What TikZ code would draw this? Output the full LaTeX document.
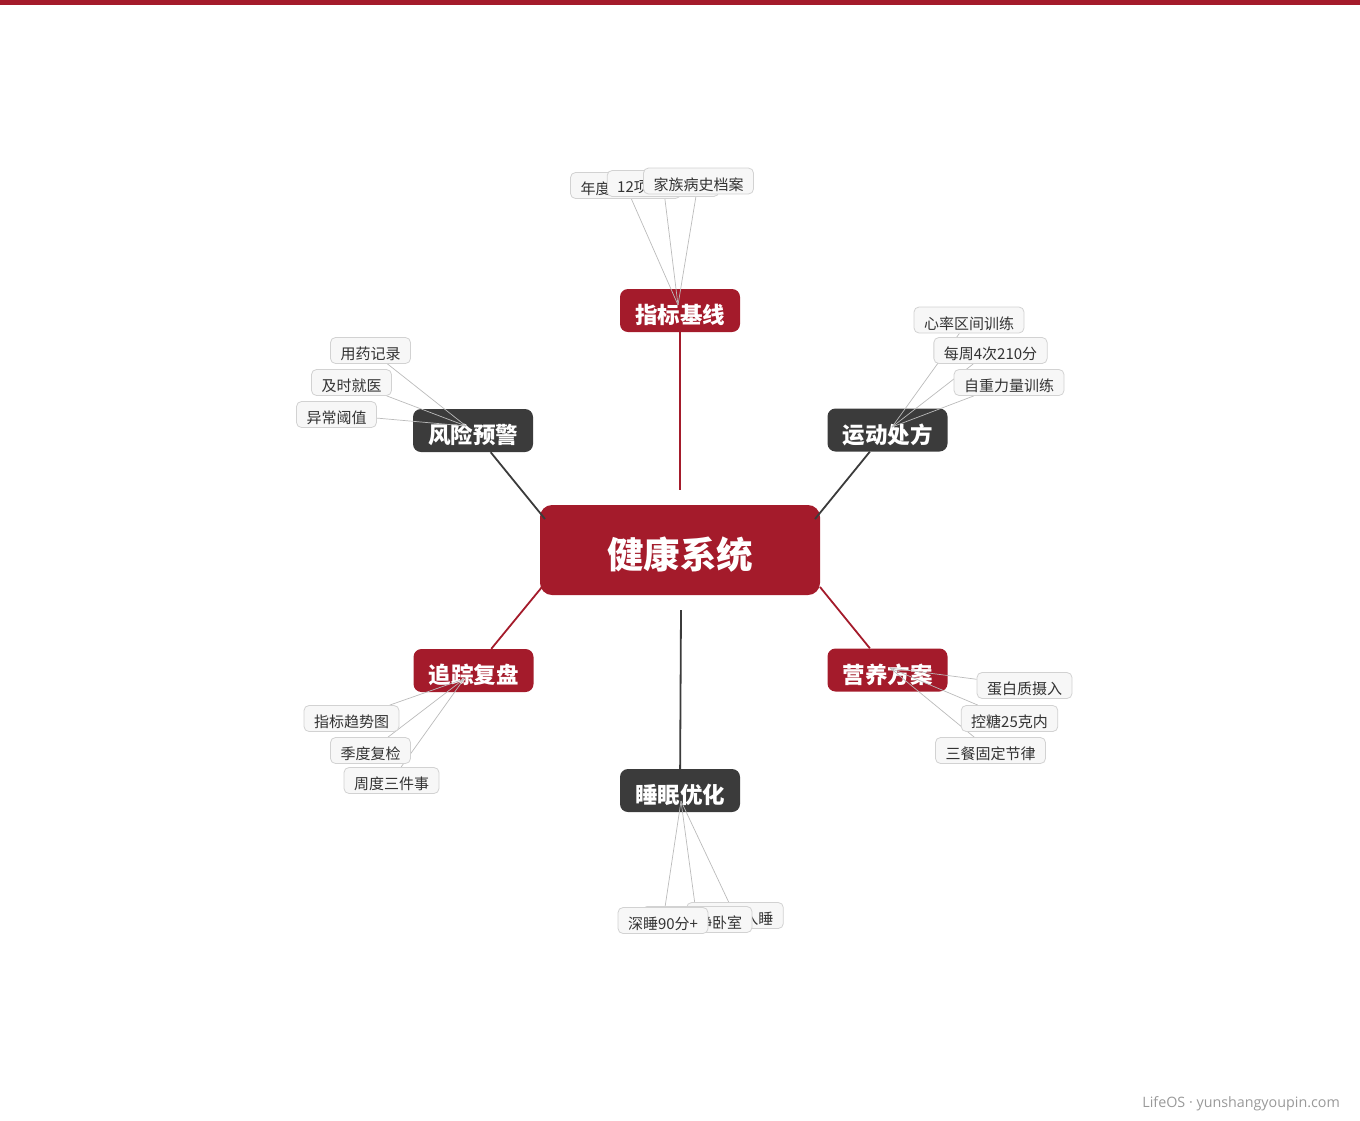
\documentclass[tikz,border=0pt]{standalone}
\usepackage{fontspec}
\setmainfont{Noto Sans CJK SC}
\newfontfamily\footfont{Open Sans}
\definecolor{brandred}{HTML}{A41B2B}
\definecolor{darkbox}{HTML}{3B3B3B}
\definecolor{leafborder}{HTML}{D2D2D2}
\definecolor{leaffill}{HTML}{F7F7F7}
\definecolor{leaftext}{HTML}{333333}
\definecolor{leafline}{HTML}{BBBBBB}
\definecolor{foottext}{HTML}{999999}
\pgfdeclarelayer{bottom}
\pgfdeclarelayer{mid}
\pgfsetlayers{bottom,mid,main}
\begin{document}
\begin{tikzpicture}[x=1pt,y=-1pt,
  centerbox/.style={fill=brandred, rounded corners=12pt, minimum width=280pt, minimum height=90pt,
    text=white, inner sep=0pt, font=\fontsize{36.5}{36.5}\selectfont\bfseries, text height=40pt, text depth=3pt},
  branchbox/.style={rounded corners=8pt, minimum width=120pt, minimum height=43pt, inner sep=0pt,
    text=white, font=\fontsize{22.5}{22.5}\selectfont\bfseries, text height=28.5pt, text depth=1.8pt},
  redbranch/.style={branchbox, fill=brandred},
  darkbranch/.style={branchbox, fill=darkbox},
  leafbox/.style={draw=leafborder, fill=leaffill, line width=0.8pt, rounded corners=5pt,
    minimum height=26pt, inner xsep=10pt, inner ysep=0pt, text=leaftext,
    font=\fontsize{15}{15}\selectfont, text height=19.5pt, text depth=1.4pt},
  redline/.style={draw=brandred, line width=1.8pt},
  darkline/.style={draw=darkbox, line width=1.8pt},
  leafconn/.style={draw=leafline, line width=0.7pt}
]
\useasboundingbox (0,0) rectangle (1360,1120);
\fill[brandred] (0,0) rectangle (1360,4.5);

\begin{pgfonlayer}{bottom}
\node[centerbox] (c) at (680,550) {健康系统};
\node[redbranch]  (b1) at (680,310.5) {指标基线};
\node[darkbranch] (b2) at (473,430.5) {风险预警};
\node[darkbranch] (b3) at (887.5,430) {运动处方};
\node[redbranch]  (b4) at (473.5,670.5) {追踪复盘};
\node[redbranch]  (b5) at (887.5,670) {营养方案};
\node[darkbranch] (b6) at (680,790.5) {睡眠优化};
\coordinate (eT) at (680,490);
\coordinate (eB) at (681,610);
\coordinate (eNW) at (545,519);
\coordinate (eNE) at (815,519);
\coordinate (eSW) at (542,587);
\coordinate (eSE) at (820,587);
\draw[redline] (b1) -- (eT);
\draw[darkline] (b2) -- (eNW);
\draw[darkline] (b3) -- (eNE);
\draw[redline] (b4) -- (eSW);
\draw[redline] (b5) -- (eSE);
\draw[darkline] (b6) -- (eB);
\end{pgfonlayer}

\coordinate (h1) at (678,305);
\coordinate (h2) at (466,426);
\coordinate (h3) at (892,427);
\coordinate (h4) at (464,679);
\coordinate (h5) at (890,668);
\coordinate (h6) at (681,801);

% leaves: top
\node[leafbox] (l11) at (625.5,185.5) {年度全面体检};
\node[leafbox] (l12) at (663,183.5) {12项核心指标};
\node[leafbox] (l13) at (698.5,181) {家族病史档案};
% risk
\node[leafbox] (l21) at (370.5,350.5) {用药记录};
\node[leafbox] (l22) at (351.5,382.5) {及时就医};
\node[leafbox] (l23) at (336.5,414.5) {异常阈值};
% exercise
\node[leafbox] (l31) at (969,320) {心率区间训练};
\node[leafbox] (l32) at (990.5,350.5) {每周4次210分};
\node[leafbox] (l33) at (1009,382.5) {自重力量训练};
% tracking
\node[leafbox] (l41) at (351.5,718.5) {指标趋势图};
\node[leafbox] (l42) at (370.5,750.5) {季度复检};
\node[leafbox] (l43) at (391.5,780.5) {周度三件事};
% nutrition
\node[leafbox] (l51) at (1024.5,685.5) {蛋白质摄入};
\node[leafbox] (l52) at (1009.5,718.5) {控糖25克内};
\node[leafbox] (l53) at (990.5,750.5) {三餐固定节律};
% sleep
\node[leafbox] (l63) at (735,915.5) {23点前入睡};
\node[leafbox] (l62) at (697,919.5) {黑暗安静卧室};
\node[leafbox] (l61) at (663,920.5) {深睡90分+};

\begin{pgfonlayer}{mid}
\foreach \l in {l11,l12,l13} \draw[leafconn] (\l) -- (h1);
\foreach \l in {l21,l22,l23} \draw[leafconn] (\l) -- (h2);
\foreach \l in {l31,l32,l33} \draw[leafconn] (\l) -- (h3);
\foreach \l in {l41,l42,l43} \draw[leafconn] (\l) -- (h4);
\foreach \l in {l51,l52,l53} \draw[leafconn] (\l) -- (h5);
\foreach \l in {l61,l62,l63} \draw[leafconn] (\l) -- (h6);
\end{pgfonlayer}

\node[anchor=base east, inner sep=0pt, text=foottext, font=\footfont\fontsize{14.3}{14.3}\selectfont] (foot) at (1340,1107) {LifeOS · yunshangyoupin.com};
\end{tikzpicture}
\end{document}
